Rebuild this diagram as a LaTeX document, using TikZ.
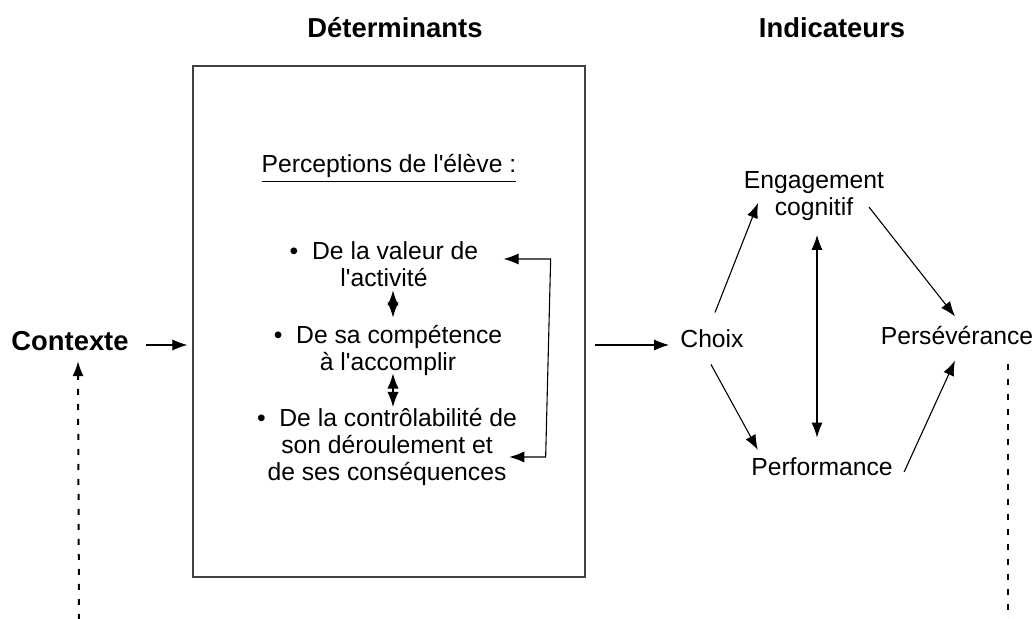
\documentclass[tikz,border=0pt]{standalone}
\usepackage{fontspec}
\setmainfont{Liberation Sans}
\usepackage{tikz}
\usetikzlibrary{arrows.meta}
\usetikzlibrary{positioning}
\newcommand{\apos}{\textquotesingle}
\tikzstyle{titre}=[font=\fontsize{13.7}{16}\selectfont\bfseries,inner sep=0pt]
\tikzstyle{texte}=[font=\fontsize{12.35}{13.5}\selectfont,align=center,inner sep=0pt]
\tikzstyle{cadre}=[draw=black!75,line width=0.7pt,minimum width=196pt,
minimum height=255.5pt,inner sep=0pt]
\tikzstyle{suite}=[-{Latex[length=7.5pt,width=5.6pt]},line width=0.55pt]
\tikzstyle{reciproque}=[{Latex[length=7.5pt,width=5.6pt]}-{Latex[length=7.5pt,width=5.6pt]},line width=0.55pt]
\tikzstyle{pointille}=[line width=1pt,dash pattern=on 3pt off 4.5pt]

\begin{document}
\begin{tikzpicture}[x=0.5pt,y=-0.5pt]
\useasboundingbox (0,0) rectangle (1034,619);
\node[titre] (det) at (395,28) {Déterminants};
\node[titre] (ind) at (832,28) {Indicateurs};
\node[cadre] (boite) at (389,321.5) {};
\node[titre] (contexte) at (70,341) {Contexte};
\node[texte,anchor=base] (percep) at (389,173) {\underline{Perceptions de l\apos élève :}};
\node[texte] (val) at (384,264.5) {\textbullet\ \ De la valeur de\\l\apos activité};
\node[texte] (comp) at (388,350) {\textbullet\ \ De sa compétence\\à l\apos accomplir};
\node[texte] (ctrl) at (387,447) {\textbullet\ \ De la contrôlabilité de\\son déroulement et\\de ses conséquences};
\node[texte] (choix) at (712,339) {Choix};
\node[texte] (eng) at (814,196) {Engagement\\cognitif};
\node[texte] (perf) at (822,467) {Performance};
\node[texte] (pers) at (957,336) {Persévérance};
\coordinate (basg) at (79,620);
\coordinate (basd) at (1008,620);
%les flèches
\draw[suite] ([shift={(16.5,4)}]contexte.east) -- ([shift={(-5,4)}]boite.west |- contexte.east);
\draw[suite] ([shift={(9,6)}]boite.east |- choix.west) -- ([shift={(-11,6)}]choix.west);

\draw[reciproque] ([shift={(9,3)}]val.south) -- ([shift={(5,-7)}]comp.north);
\draw[reciproque] ([shift={(5,-2)}]comp.south) -- ([shift={(6,-1)}]ctrl.north);
\draw[reciproque] ([shift={(25,-5.5)}]val.east) -- ++(47,0) -- ++(-5,198) -- ([shift={(-8,10)}]ctrl.east);

\draw[suite] ([shift={(3,-17)}]choix.north) -- ([shift={(14.5,7)}]eng.west);
\draw[suite] ([shift={(-1,16)}]choix.south) -- ([shift={(7,-17)}]perf.west);
\draw[reciproque] ([shift={(3,14)}]eng.south) -- ([shift={(-5,-20)}]perf.north);
\draw[suite] ([shift={(-15.5,11)}]eng.east) -- ([shift={(-2,-10)}]pers.north);
\draw[suite] ([shift={(11,5)}]perf.east) -- ([shift={(-2,15)}]pers.south);

\draw[suite,pointille] (basg) -- ([shift={(8,10)}]contexte.south);
\draw[pointille] ([yshift=-9pt]pers.south -| basd) -- (basd);
\end{tikzpicture}
\end{document}
